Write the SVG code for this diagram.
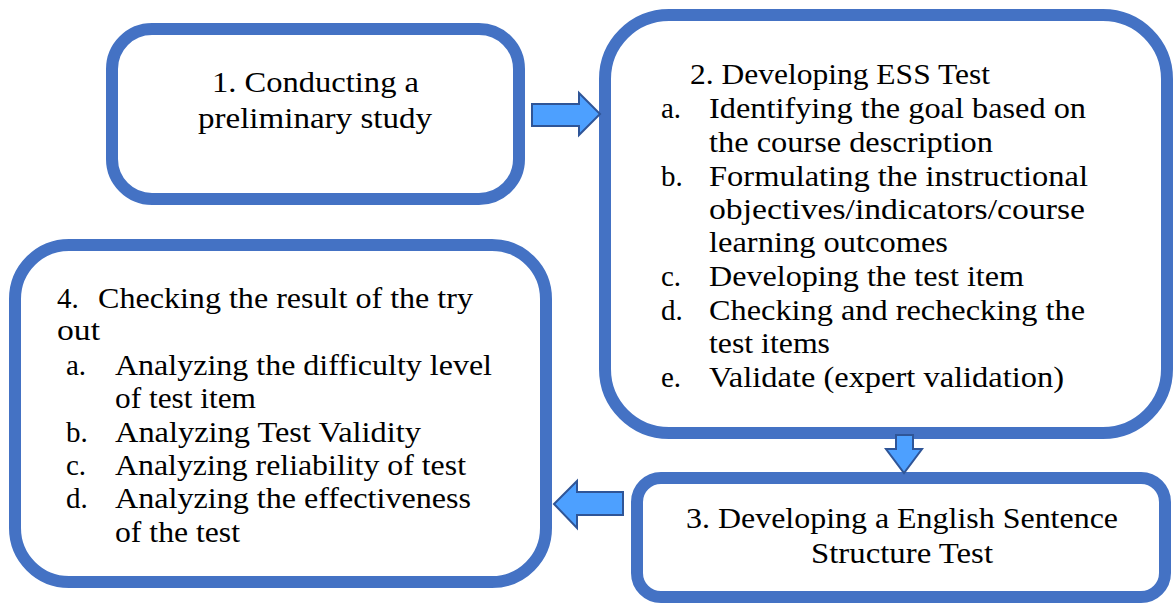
<svg xmlns="http://www.w3.org/2000/svg" width="1174" height="604" viewBox="0 0 1174 604">
<style>
.box{fill:#fff;stroke:#4472C4;stroke-width:12}
.t{font-family:"Liberation Serif","Times New Roman",serif;font-size:29px;fill:#000}
.arr{fill:#4DA0FF;stroke:#2F5597;stroke-width:2;stroke-linejoin:miter}
</style>
<rect width="1174" height="604" fill="#fff"/>
<g id="node1">
<rect class="box" x="112" y="29" width="407" height="170" rx="40"/>
<text class="t" x="212" y="92" textLength="207" lengthAdjust="spacingAndGlyphs">1. Conducting a</text>
<text class="t" x="198" y="128" textLength="234" lengthAdjust="spacingAndGlyphs">preliminary study</text>
</g>
<g id="node2">
<rect class="box" x="605" y="15" width="562" height="418" rx="64"/>
<text class="t" x="690" y="84" textLength="300" lengthAdjust="spacingAndGlyphs">2. Developing ESS Test</text>
<text class="t" x="661" y="118">a.</text>
<text class="t" x="709" y="118" textLength="377" lengthAdjust="spacingAndGlyphs">Identifying the goal based on</text>
<text class="t" x="709" y="152" textLength="284" lengthAdjust="spacingAndGlyphs">the course description</text>
<text class="t" x="661" y="186">b.</text>
<text class="t" x="709" y="186" textLength="379" lengthAdjust="spacingAndGlyphs">Formulating the instructional</text>
<text class="t" x="709" y="219" textLength="376" lengthAdjust="spacingAndGlyphs">objectives/indicators/course</text>
<text class="t" x="709" y="252" textLength="239" lengthAdjust="spacingAndGlyphs">learning outcomes</text>
<text class="t" x="661" y="286">c.</text>
<text class="t" x="709" y="286" textLength="315" lengthAdjust="spacingAndGlyphs">Developing the test item</text>
<text class="t" x="661" y="320">d.</text>
<text class="t" x="709" y="320" textLength="376" lengthAdjust="spacingAndGlyphs">Checking and rechecking the</text>
<text class="t" x="709" y="353" textLength="121" lengthAdjust="spacingAndGlyphs">test items</text>
<text class="t" x="661" y="387">e.</text>
<text class="t" x="709" y="387" textLength="355" lengthAdjust="spacingAndGlyphs">Validate (expert validation)</text>
</g>
<g id="node3">
<rect class="box" x="637" y="478" width="528" height="119" rx="24"/>
<text class="t" x="686" y="528" textLength="432" lengthAdjust="spacingAndGlyphs">3. Developing a English Sentence</text>
<text class="t" x="811" y="563" textLength="182" lengthAdjust="spacingAndGlyphs">Structure Test</text>
</g>
<g id="node4">
<rect class="box" x="15" y="245" width="531" height="337" rx="54"/>
<text class="t" x="57" y="308">4.</text>
<text class="t" x="98" y="308" textLength="375" lengthAdjust="spacingAndGlyphs">Checking the result of the try</text>
<text class="t" x="57" y="340" textLength="43" lengthAdjust="spacingAndGlyphs">out</text>
<text class="t" x="66" y="375">a.</text>
<text class="t" x="115" y="375" textLength="377" lengthAdjust="spacingAndGlyphs">Analyzing the difficulty level</text>
<text class="t" x="115" y="408" textLength="141" lengthAdjust="spacingAndGlyphs">of test item</text>
<text class="t" x="66" y="442">b.</text>
<text class="t" x="115" y="442" textLength="306" lengthAdjust="spacingAndGlyphs">Analyzing Test Validity</text>
<text class="t" x="66" y="475">c.</text>
<text class="t" x="115" y="475" textLength="351" lengthAdjust="spacingAndGlyphs">Analyzing reliability of test</text>
<text class="t" x="66" y="508">d.</text>
<text class="t" x="115" y="508" textLength="356" lengthAdjust="spacingAndGlyphs">Analyzing the effectiveness</text>
<text class="t" x="115" y="542" textLength="125" lengthAdjust="spacingAndGlyphs">of the test</text>
</g>
<g id="connectors">
<polygon class="arr" points="532,104 579,104 579,93 600,114 579,135 579,126 532,126"/>
<polygon class="arr" points="896,435 913,435 913,449 922,449 904,473 886,449 896,449"/>
<polygon class="arr" points="623,492 577,492 577,481 554,504 577,528 577,515 623,515"/>
</g>
</svg>
